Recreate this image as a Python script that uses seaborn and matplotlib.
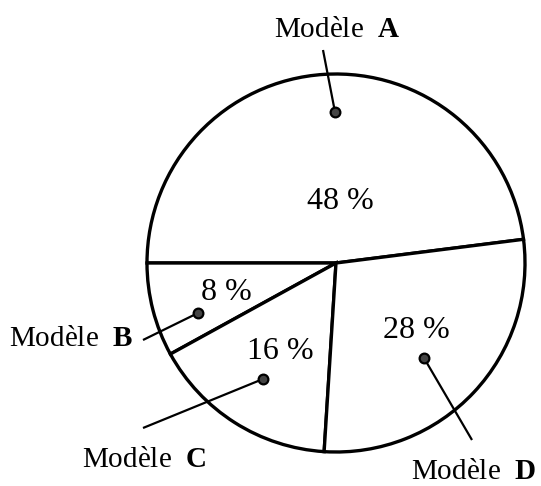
import seaborn as sns
import matplotlib.pyplot as plt

# data
models = ["A", "B", "C", "D"]
shares = [48, 8, 16, 28]
pct_labels = ["48 %", "8 %", "16 %", "28 %"]

sns.set_theme(style="white")
plt.rcParams['font.family'] = ['Liberation Serif', 'DejaVu Serif']
plt.rcParams['text.color'] = 'black'
plt.rcParams['mathtext.fontset'] = 'custom'
plt.rcParams['mathtext.rm'] = 'Liberation Serif'
plt.rcParams['mathtext.bf'] = 'Liberation Serif:bold'

W, H = 541, 486
CX, CY, R = 336, 263, 189


# pixel -> unit-pie coords
def px(x, y):
    return (x - CX) / R, (CY - y) / R


fig = plt.figure(figsize=(W / 100, H / 100), dpi=100)
ax = fig.add_axes([0, 0, 1, 1])

ax.pie(shares, startangle=7.2, counterclock=True, colors=["white"] * 4,
       wedgeprops=dict(edgecolor="black", linewidth=2.4))
x0, y1 = px(0, 0)
x1, y0 = px(W, H)
ax.set_aspect("auto")
ax.set_xlim(x0, x1)
ax.set_ylim(y0, y1)
ax.axis("off")

# layout in pixels
pct_pos = [(340, 201), (226, 292), (280, 351), (416, 330)]
dot_pos = [(335, 112), (198, 313), (263, 379), (424, 358)]
lead_end = [(323, 50), (143, 340), (143, 428), (472, 440)]
lab_pos = [(337, 30), (133, 339), (144, 460), (411, 485)]
lab_ha = ["center", "right", "center", "left"]
lab_va = ["center", "center", "center", "bottom"]

for i, m in enumerate(models):
    ax.text(*px(*pct_pos[i]), pct_labels[i], ha="center", va="center", fontsize=23)
    dx, dy = px(*dot_pos[i])
    ex, ey = px(*lead_end[i])
    ax.plot([dx, ex], [dy, ey], color="black", lw=1.6, solid_capstyle="butt")
    ax.plot(dx, dy, "o", ms=7, mfc="#444444", mec="black", mew=1.6)
    ax.text(*px(*lab_pos[i]), "Modèle  $\\mathbf{" + m + "}$", ha=lab_ha[i], va=lab_va[i],
            fontsize=21)

fig.savefig("out.png", dpi=100)
